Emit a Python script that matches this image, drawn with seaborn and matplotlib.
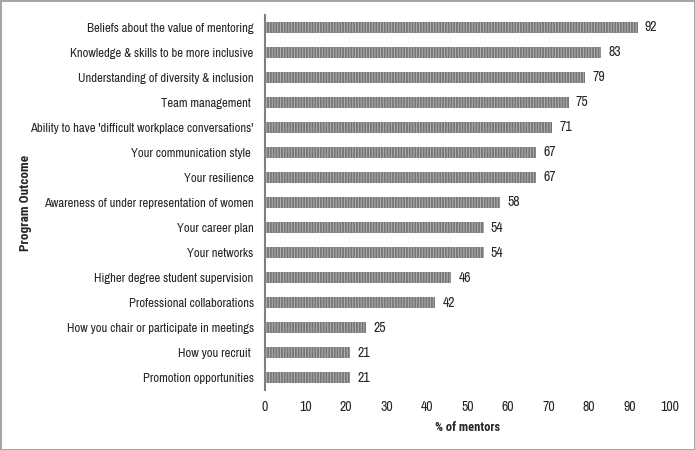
import pandas as pd
import matplotlib.pyplot as plt
import seaborn as sns

outcomes = [
    'Beliefs about the value of mentoring',
    'Knowledge & skills to be more inclusive',
    'Understanding of diversity & inclusion',
    'Team management ',
    "Ability to have 'difficult workplace conversations'",
    'Your communication style ',
    'Your resilience',
    'Awareness of under representation of women',
    'Your career plan',
    'Your networks',
    'Higher degree student supervision',
    'Professional collaborations',
    'How you chair or participate in meetings',
    'How you recruit ',
    'Promotion opportunities',
]
pct_mentors = [92, 83, 79, 75, 71, 67, 67, 58, 54, 54, 46, 42, 25, 21, 21]
x_ticks = [0, 10, 20, 30, 40, 50, 60, 70, 80, 90, 100]

df = pd.DataFrame({'Outcome': outcomes, 'Pct': pct_mentors})

sns.set_theme(style='white')
plt.rcParams['font.family'] = ['Liberation Sans Narrow', 'Archivo Narrow', 'DejaVu Sans']
plt.rcParams['hatch.linewidth'] = 1.3
bold_family = ['Liberation Sans Narrow', 'Roboto Condensed', 'Fira Sans Condensed', 'DejaVu Sans']

fig = plt.figure(figsize=(6.95, 4.5), dpi=100)
ax = fig.add_axes([0.381, 0.133, 0.583, 0.834])

sns.barplot(data=df, x='Pct', y='Outcome', orient='h', ax=ax,
            color='#b4b4b4', width=0.44, edgecolor='none')
for bar in ax.patches:
    bar.set_hatch('||||||')
    bar.set_edgecolor('#767676')
    bar.set_linewidth(0)

for i, v in enumerate(pct_mentors):
    ax.text(v + 1.8, i, str(v), va='center', ha='left', fontsize=10, color='#262626')

ax.set_xlim(0, 100)
ax.set_ylim(14.5, -0.5)
ax.set_xticks(x_ticks)
ax.set_xticklabels([str(t) for t in x_ticks], fontsize=10, color='#262626')
ax.tick_params(axis='y', labelsize=9.1, colors='#262626', length=0, pad=8)
ax.tick_params(axis='x', length=0, pad=7)
ax.set_xlabel('% of mentors', fontsize=9, fontweight='bold', family=bold_family, labelpad=5)
ax.set_ylabel('Program Outcome', fontsize=9.5, fontweight='bold', family=bold_family)
ax.yaxis.set_label_coords(-0.575, 0.5)

for s in ['top', 'right', 'bottom']:
    ax.spines[s].set_visible(False)
ax.spines['left'].set_color('#7f7f7f')
ax.spines['left'].set_linewidth(1.5)

fig.patch.set_edgecolor('#a6a6a6')
fig.patch.set_linewidth(2)

fig.savefig('out.png', dpi=100, edgecolor=fig.get_edgecolor())
